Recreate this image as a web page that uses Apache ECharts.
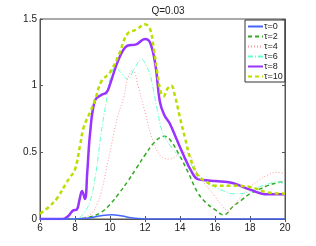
<!DOCTYPE html>
<html><head><meta charset="utf-8">
<script src="https://cdn.jsdelivr.net/npm/echarts@6/dist/echarts.min.js"></script>
<style>html,body{margin:0;padding:0;background:#fff}#c{width:316px;height:246px}</style>
</head><body><div id="c"></div>
<script>
const title = "Q=0.03";
const legendNames = ["τ=0","τ=2","τ=4","τ=6","τ=8","τ=10"];
const colors = ["#4466ff","#33aa22","#ff9a9a","#66ffcc","#9933ff","#bbdd00"];

const x0 = [6, 7, 8, 8.5, 9, 9.5, 10.1, 10.7, 11.2, 11.6, 12, 14, 16, 18, 20];
const y0 = [0, 0, 0, 0.004, 0.012, 0.025, 0.032, 0.022, 0.01, 0.003, 0, 0, 0, 0, 0];

const x2 = [6, 8, 8.5, 9, 9.5, 10, 10.5, 11, 11.5, 12, 12.5, 12.9, 13.1, 13.4, 14, 14.5, 15, 15.5, 16, 16.5, 17, 17.5, 18, 18.5, 19, 19.5, 20];
const y2 = [0, 0, 0.005, 0.02, 0.05, 0.11, 0.19, 0.28, 0.38, 0.48, 0.57, 0.615, 0.62, 0.6, 0.47, 0.34, 0.2, 0.12, 0.07, 0.03, 0.09, 0.14, 0.19, 0.22, 0.25, 0.27, 0.28];

const x4 = [6, 8, 8.5, 9, 9.25, 9.5, 9.8, 10, 10.4, 10.8, 11, 11.3, 11.6, 12, 12.5, 13, 13.4, 14, 14.3, 14.7, 15, 15.5, 16, 16.4, 16.8, 17, 17.5, 18, 18.5, 19, 19.5, 20];
const y4 = [0, 0, 0.01, 0.05, 0.11, 0.2, 0.38, 0.5, 0.75, 0.92, 1.05, 1.12, 1.0, 0.8, 0.57, 0.46, 0.45, 0.49, 0.5, 0.45, 0.34, 0.25, 0.17, 0.1, 0.06, 0.09, 0.17, 0.24, 0.29, 0.33, 0.35, 0.34];

const x6 = [6, 8, 8.3, 8.6, 8.9, 9.2, 9.5, 9.8, 10, 10.3, 10.6, 11, 11.4, 11.8, 12.1, 12.3, 12.7, 13, 13.5, 14, 14.5, 15, 15.5, 16, 16.5, 17, 17.5, 18, 18.5, 19, 19.5, 20];
const y6 = [0, 0, 0.015, 0.06, 0.15, 0.35, 0.65, 0.89, 1.05, 1.14, 1.1, 1.05, 1.13, 1.2, 1.14, 1.08, 0.82, 0.65, 0.54, 0.47, 0.43, 0.34, 0.28, 0.24, 0.21, 0.19, 0.19, 0.21, 0.24, 0.26, 0.28, 0.26];

const x8 = [6, 7.3, 7.6, 7.9, 8.1, 8.25, 8.4, 8.57, 8.7, 8.86, 9.14, 9.5, 9.8, 10, 10.5, 11, 11.5, 12, 12.3, 12.6, 12.85, 13.1, 13.4, 13.8, 14.2, 14.6, 15, 15.5, 16, 17, 18, 19, 20];
const y8 = [0, 0, 0.02, 0.065, 0.07, 0.14, 0.21, 0.15, 0.35, 0.64, 0.89, 0.93, 0.95, 1.01, 1.2, 1.3, 1.31, 1.35, 1.32, 1.15, 0.88, 0.78, 0.72, 0.6, 0.48, 0.37, 0.3, 0.29, 0.285, 0.27, 0.22, 0.185, 0.185];

const x10 = [6, 6.5, 7, 7.5, 7.7, 8, 8.3, 8.5, 8.86, 9.14, 9.5, 10, 10.5, 11, 11.5, 12, 12.3, 12.5, 12.7, 12.9, 13.05, 13.3, 13.5, 13.7, 14, 14.3, 14.6, 15, 15.5, 16, 17, 18, 19, 20];
const y10 = [0.04, 0.09, 0.16, 0.27, 0.31, 0.37, 0.56, 0.69, 0.8, 0.89, 1.03, 1.1, 1.23, 1.39, 1.42, 1.46, 1.42, 1.28, 1.1, 0.95, 0.92, 0.98, 1.0, 0.93, 0.76, 0.6, 0.45, 0.33, 0.28, 0.25, 0.25, 0.24, 0.2, 0.19];

const xTicks = [6, 8, 10, 12, 14, 16, 18, 20];
const yTicks = [0, 0.5, 1, 1.5];

const xs = [x0, x2, x4, x6, x8, x10];
const ys = [y0, y2, y4, y6, y8, y10];
const styles = [
  {type:'solid', width:1.5},
  {type:[4,3], width:1.5},
  {type:[1,2], width:1},
  {type:[5,2,1,2], width:1},
  {type:'solid', width:2.5},
  {type:[4,3], width:2.5}
];

const font = 'Liberation Sans, Arial, sans-serif';
const series = legendNames.map((n, i) => ({
  name: n, type: 'line', smooth: 0.4, symbol: 'none',
  data: xs[i].map((x, j) => [x, ys[i][j]]),
  lineStyle: Object.assign({color: colors[i]}, styles[i]),
  itemStyle: {color: colors[i]},
  z: i === 0 ? 10 : 2
}));

const chart = echarts.init(document.getElementById('c'), null, {renderer:'canvas'});
chart.setOption({
  animation: false,
  backgroundColor: '#fff',
  title: {text: title, left: 163, top: 1, textAlign: 'center',
    textStyle: {fontSize: 10, fontWeight: 'normal', color: '#222', fontFamily: font}},
  grid: {left: 40, right: 31, top: 19, bottom: 27, show: true, borderColor: '#555', borderWidth: 1},
  legend: {
    orient: 'vertical', left: 245, top: 20, data: legendNames,
    backgroundColor: '#fff', borderColor: '#333', borderWidth: 1,
    padding: [2, 2, 1, 2], itemGap: 1, itemWidth: 15, itemHeight: 10,
    itemStyle: {opacity: 0},
    textStyle: {fontSize: 9, color: '#222', fontFamily: font, padding: [0,0,0,-4]}
  },
  xAxis: [
    {type: 'value', min: 6, max: 20, interval: 2, position: 'bottom',
      axisLine: {show: true, lineStyle: {color: '#555'}},
      axisTick: {inside: true, length: 3, lineStyle: {color: '#555'}},
      axisLabel: {fontSize: 10, color: '#222', fontFamily: font, margin: 4,
        formatter: v => xTicks.includes(v) ? String(v) : ''},
      splitLine: {show: false}},
    {type: 'value', min: 6, max: 20, interval: 2, position: 'top',
      axisLine: {show: true, lineStyle: {color: '#555'}},
      axisTick: {inside: true, length: 3, lineStyle: {color: '#555'}},
      axisLabel: {show: false}, splitLine: {show: false}}
  ],
  yAxis: [
    {type: 'value', min: 0, max: 1.5, interval: 0.5, position: 'left',
      axisLine: {show: true, lineStyle: {color: '#555'}},
      axisTick: {inside: true, length: 3, lineStyle: {color: '#555'}},
      axisLabel: {fontSize: 10, color: '#222', fontFamily: font, margin: 3,
        formatter: v => yTicks.includes(v) ? String(v) : ''},
      splitLine: {show: false}},
    {type: 'value', min: 0, max: 1.5, interval: 0.5, position: 'right',
      axisLine: {show: true, lineStyle: {color: '#555'}},
      axisTick: {inside: true, length: 3, lineStyle: {color: '#555'}},
      axisLabel: {show: false}, splitLine: {show: false}}
  ],
  series: series
});
</script></body></html>
